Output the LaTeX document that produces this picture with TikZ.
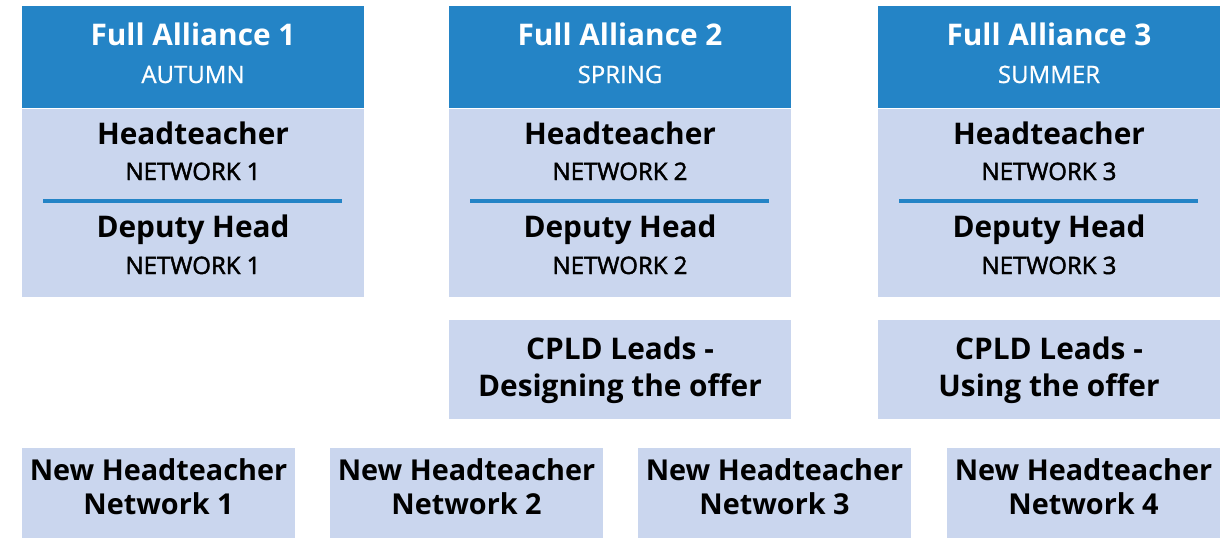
\documentclass[tikz,border=0pt]{standalone}
\usepackage{fontspec}
\setmainfont{Open Sans}
\newfontfamily\semifont[FakeBold=2]{Open Sans}
\newfontfamily\seasonfont[FakeBold=0.7]{Open Sans}
\usetikzlibrary{positioning}
\definecolor{allianceblue}{HTML}{2484C6}
\definecolor{paleblue}{HTML}{CAD6EE}
\tikzset{
  headbox/.style={fill=allianceblue, minimum width=342pt, minimum height=102pt, anchor=north west, inner sep=0pt},
  bodybox/.style={fill=paleblue, minimum width=342pt, minimum height=188pt, inner sep=0pt},
  cpldbox/.style={fill=paleblue, minimum width=342pt, minimum height=99pt, anchor=north west, inner sep=0pt},
  newbox/.style={fill=paleblue, minimum width=273pt, minimum height=90pt, anchor=north west, inner sep=0pt},
  bigtxt/.style={anchor=base, inner sep=0pt, font=\fontsize{29.8}{34}\selectfont\bfseries},
  newtxt/.style={anchor=base, inner sep=0pt, font=\fontsize{28.8}{34}\selectfont\bfseries},
  smalltxt/.style={anchor=base, inner sep=0pt, font=\fontsize{24}{28}\semifont},
  seasontxt/.style={anchor=base, inner sep=0pt, text=white, font=\fontsize{24}{28}\seasonfont},
  sepline/.style={draw=allianceblue, line width=4.5pt}
}
\begin{document}
\begin{tikzpicture}[x=1pt,y=-1pt]
  \useasboundingbox (0,0) rectangle (1232,538);

  % the three full alliance columns
  \foreach \n/\x/\season in {1/22/AUTUMN, 2/449/SPRING, 3/878/SUMMER} {
    \node[headbox] (head\n) at (\x,6) {};
    \node[bodybox, below=0pt of head\n] (body\n) {};
    \node[bigtxt, text=white] (fa\n) at (\x+171,45) {Full Alliance \n};
    \node[seasontxt] (season\n) at (\x+171,83) {\season};
    \node[bigtxt] (ht\n) at (\x+171,144) {Headteacher};
    \node[smalltxt] (htnet\n) at (\x+171,180) {NETWORK \n};
    \coordinate (sepl\n) at (\x+21,201);
    \coordinate (sepr\n) at (\x+320,201);
    \draw[sepline] (sepl\n) -- (sepr\n);
    \node[bigtxt] (dh\n) at (\x+171,237) {Deputy Head};
    \node[smalltxt] (dhnet\n) at (\x+171,274) {NETWORK \n};
  }

  % CPLD leads
  \node[cpldbox] (cpld2) at (449,320) {};
  \node[bigtxt] (cpldtop2) at (620,359) {CPLD Leads -};
  \node[bigtxt] (cpldbot2) at (620,396) {Designing the offer};
  \node[cpldbox] (cpld3) at (878,320) {};
  \node[bigtxt] (cpldtop3) at (1049,359) {CPLD Leads -};
  \node[bigtxt] (cpldbot3) at (1049,396) {Using the offer};

  % new headteacher networks
  \foreach \n/\x in {1/22, 2/330, 3/638, 4/947} {
    \node[newbox] (new\n) at (\x,448) {};
    \node[newtxt] (newtop\n) at (\x+136.5,480) {New Headteacher};
    \node[newtxt] (newbot\n) at (\x+136.5,514) {Network \n};
  }
\end{tikzpicture}
\end{document}
